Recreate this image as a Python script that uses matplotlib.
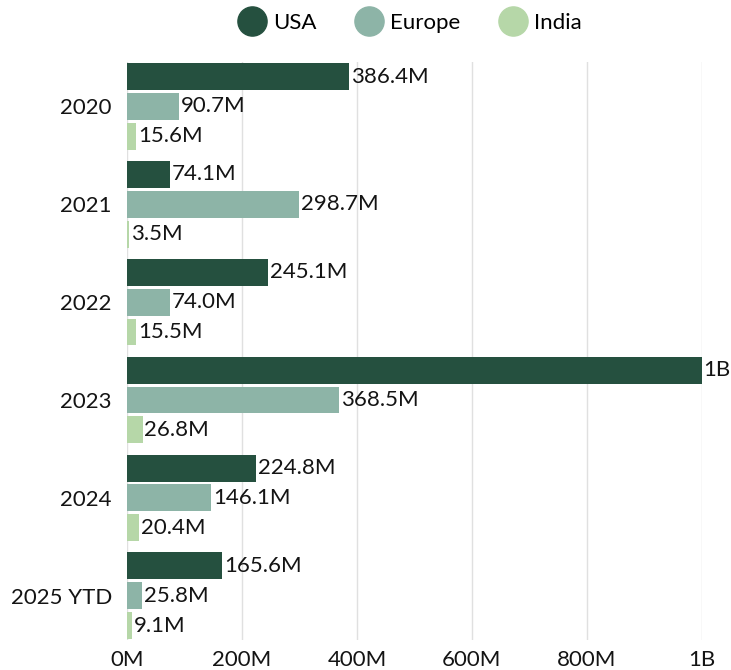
import matplotlib.pyplot as plt
import numpy as np
from matplotlib.lines import Line2D

plt.rcParams['font.family'] = ['Lato', 'DejaVu Sans']

# Data (values in millions)
years = ['2020', '2021', '2022', '2023', '2024', '2025 YTD']
usa = [386.4, 74.1, 245.1, 1000.0, 224.8, 165.6]
europe = [90.7, 298.7, 74.0, 368.5, 146.1, 25.8]
india = [15.6, 3.5, 15.5, 26.8, 20.4, 9.1]
series_names = ['USA', 'Europe', 'India']
colors = ['#25503f', '#8db4a7', '#b6d7a8']

xticks = [0, 200, 400, 600, 800, 1000]
xtick_labels = ['0M', '200M', '400M', '600M', '800M', '1B']


def fmt(v):
    if v >= 1000:
        return f'{v / 1000:g}B'
    return f'{v:.1f}M'


fig = plt.figure(figsize=(7.31, 6.70), dpi=100)
ax = fig.add_axes([0.174, 0.045, 0.786, 0.862])

y = np.arange(len(years))
bar_h = 0.275
step = 0.305
txt = '#141414'
fs = 16

for i, (vals, col) in enumerate(zip([usa, europe, india], colors)):
    pos = y + (i - 1) * step
    bars = ax.barh(pos, vals, height=bar_h, color=col, zorder=3)
    for b, v in zip(bars, vals):
        ax.text(b.get_width() + 3, b.get_y() + b.get_height() / 2, fmt(v),
                va='center', ha='left', fontsize=fs, color=txt, zorder=4)

ax.set_xlim(0, 1000)
ax.set_ylim(len(years) - 0.55, -0.45)
ax.set_yticks(y)
ax.set_yticklabels(years, fontsize=fs, color=txt)
ax.set_xticks(xticks)
ax.set_xticklabels(xtick_labels, fontsize=fs, color=txt)
ax.tick_params(length=0, pad=11)
ax.tick_params(axis='x', pad=7)
ax.grid(axis='x', color='#e0e0e0', linewidth=1, zorder=0)
for s in ax.spines.values():
    s.set_visible(False)

handles = [Line2D([0], [0], marker='o', linestyle='', markersize=21,
                  markerfacecolor=c, markeredgecolor=c) for c in colors]
fig.legend(handles, series_names, loc='center', bbox_to_anchor=(0.561, 0.966),
           ncol=3, frameon=False, fontsize=fs, handlelength=1.2,
           handletextpad=0.36, columnspacing=1.75)

fig.savefig('out.png', dpi=100)
